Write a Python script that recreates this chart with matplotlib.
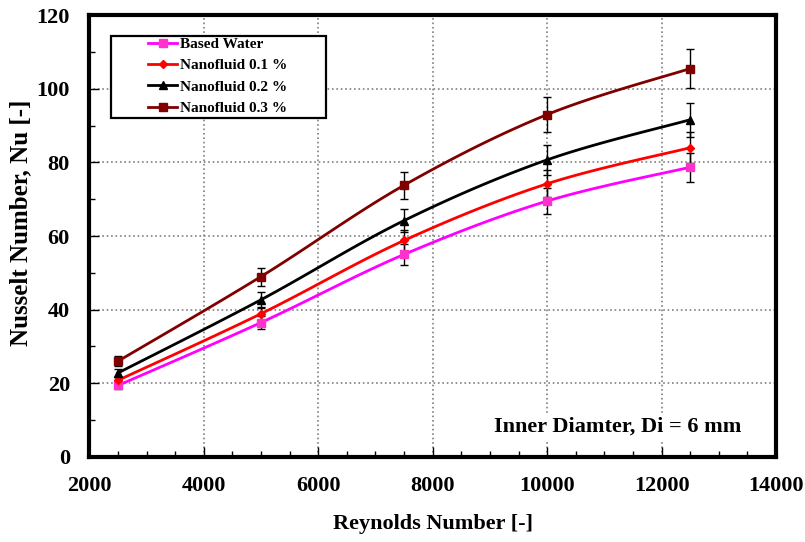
import numpy as np
import matplotlib
matplotlib.use("Agg")
import matplotlib.pyplot as plt
from matplotlib.patches import Rectangle
from matplotlib.ticker import MultipleLocator

plt.rcParams["font.family"] = ["Liberation Serif", "DejaVu Serif"]
plt.rcParams["font.weight"] = "bold"

reynolds = [2500, 5000, 7500, 10000, 12500]
nu_water = [19.4, 36.5, 55.0, 69.5, 78.7]
nu_01 = [20.8, 38.9, 58.8, 74.2, 84.0]
nu_02 = [22.8, 42.7, 64.2, 80.7, 91.6]
nu_03 = [26.0, 49.0, 73.8, 93.0, 105.5]
err_frac = 0.05  # error bars are +/- 5 % of each value

series = [
    ("Based Water", nu_water, "#FF00FF", "#FF33CC", "s", 6),
    ("Nanofluid 0.1 %", nu_01, "#FF0000", "#FF0000", "D", 4),
    ("Nanofluid 0.2 %", nu_02, "#000000", "#000000", "^", 6),
    ("Nanofluid 0.3 %", nu_03, "#800000", "#800000", "s", 6),
]


def smooth(x, y, n=30):
    # Excel-style smoothed line (Catmull-Rom through the points)
    x = np.asarray(x, float)
    y = np.asarray(y, float)
    px = np.concatenate([[x[0]], x, [x[-1]]])
    py = np.concatenate([[y[0]], y, [y[-1]]])
    xs, ys = [], []
    t = np.linspace(0, 1, n)
    for i in range(1, len(x)):
        p0, p1, p2, p3 = (np.array([px[j], py[j]]) for j in (i - 1, i, i + 1, i + 2))
        c1 = p1 + (p2 - p0) / 6
        c2 = p2 - (p3 - p1) / 6
        b = ((1 - t) ** 3)[:, None] * p1 + (3 * (1 - t) ** 2 * t)[:, None] * c1 \
            + (3 * (1 - t) * t ** 2)[:, None] * c2 + (t ** 3)[:, None] * p2
        xs.extend(b[:, 0])
        ys.extend(b[:, 1])
    return xs, ys


fig = plt.figure(figsize=(8.05, 5.42), dpi=100)
ax = fig.add_axes([0.111, 0.157, 0.853, 0.815])

for label, vals, lc, mc, mk, ms in series:
    vals = np.asarray(vals)
    ax.errorbar(reynolds, vals, yerr=vals * err_frac, fmt="none", ecolor="black",
                elinewidth=1, capsize=3, capthick=1, zorder=2)
    sx, sy = smooth(reynolds, vals)
    ax.plot(sx, sy, color=lc, lw=2, zorder=3)
    ax.plot(reynolds, vals, linestyle="none", marker=mk, markersize=ms,
            color=mc, zorder=4)
    ax.plot([], [], color=lc, lw=2, marker=mk, markersize=ms,
            markerfacecolor=mc, markeredgecolor=mc, label=label)

ax.set_xlim(2000, 14000)
ax.set_ylim(0, 120)
ax.xaxis.set_major_locator(MultipleLocator(2000))
ax.xaxis.set_minor_locator(MultipleLocator(500))
ax.yaxis.set_major_locator(MultipleLocator(20))
ax.yaxis.set_minor_locator(MultipleLocator(10))
ax.tick_params(which="both", direction="in", top=False, right=False,
               labelsize=16, width=1)
ax.tick_params(which="major", length=7, pad=14)
ax.tick_params(which="minor", length=4)
ax.grid(True, which="major", color="#808080", linestyle=":", linewidth=1.2)

for s in ax.spines.values():
    s.set_linewidth(3)

ax.set_xlabel("Reynolds Number [-]", fontsize=16, fontweight="bold", labelpad=13)
ax.set_ylabel("Nusselt Number, Nu [-]", fontsize=18, fontweight="bold")
ax.yaxis.set_label_coords(-0.083, 0.53)

# legend box drawn separately, entries centred inside like Excel
ax.add_patch(Rectangle((0.032, 0.767), 0.313, 0.186, transform=ax.transAxes,
                       facecolor="white", edgecolor="black", linewidth=1.6,
                       zorder=5))
leg = ax.legend(loc="upper left", bbox_to_anchor=(0.086, 0.95), frameon=False,
                handlelength=1.9, handletextpad=0.15, borderpad=0,
                borderaxespad=0, labelspacing=0.5,
                prop={"weight": "bold", "size": 11})
leg.set_zorder(6)

ax.text(0.77, 0.068, "Inner Diamter, Di = 6 mm", transform=ax.transAxes,
        ha="center", va="center", fontsize=16, fontweight="bold",
        bbox=dict(facecolor="white", edgecolor="none", pad=3), zorder=5)

fig.savefig("out.png", dpi=100)
